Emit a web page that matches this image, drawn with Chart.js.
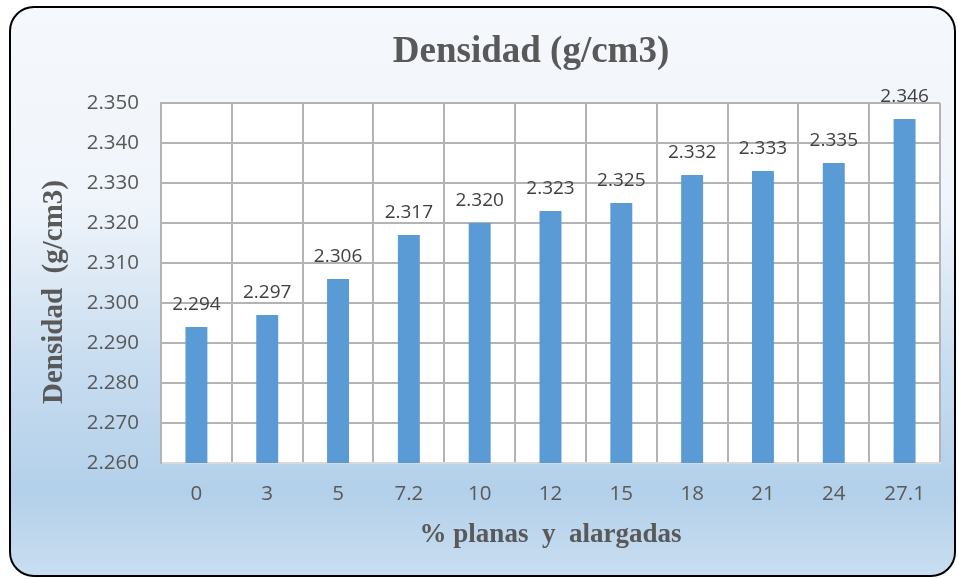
<!DOCTYPE html>
<html>
<head>
<meta charset="utf-8">
<script src="https://cdn.jsdelivr.net/npm/chart.js@4.4.1/dist/chart.umd.min.js"></script>
<style>
  html, body { margin: 0; padding: 0; background: #ffffff; }
  #wrap { width: 958px; height: 578px; position: relative; }
</style>
</head>
<body>
<div id="wrap"><canvas id="chart" width="958" height="578"></canvas></div>
<script>
// Percentage of flat and elongated particles vs. density
const categories = ['0', '3', '5', '7.2', '10', '12', '15', '18', '21', '24', '27.1'];
const densidad = [2.294, 2.297, 2.306, 2.317, 2.320, 2.323, 2.325, 2.332, 2.333, 2.335, 2.346];
const yMin = 2.26;
const yMax = 2.35;
const yStep = 0.01;

const chartTitle = 'Densidad (g/cm3)';
const yTitle = 'Densidad  (g/cm3)';
const xTitle = '% planas  y  alargadas';

const textGray = '#595959';
const gridGray = '#b3b3b3';

// Rounded frame with a soft blue gradient, and a white plot area
const framePlugin = {
  id: 'frame',
  beforeDraw(chart) {
    const ctx = chart.ctx;
    const x = 10, y = 7, w = 945, h = 569, r = 24;
    ctx.save();
    const g = ctx.createLinearGradient(0, y, 0, y + h);
    g.addColorStop(0, '#f5f8fc');
    g.addColorStop(0.34, '#f0f5fb');
    g.addColorStop(0.62, '#c9ddf0');
    g.addColorStop(0.85, '#b3d0ea');
    g.addColorStop(1, '#c9def1');
    ctx.beginPath();
    ctx.roundRect(x, y, w, h, r);
    ctx.fillStyle = g;
    ctx.fill();
    ctx.lineWidth = 2;
    ctx.strokeStyle = '#000000';
    ctx.stroke();
    const a = chart.chartArea;
    ctx.fillStyle = '#ffffff';
    ctx.fillRect(a.left, a.top, a.right - a.left, a.bottom - a.top);
    ctx.restore();
  }
};

// Chart title and vertical axis title, placed over the frame
const titles = {
  id: 'titles',
  afterDraw(chart) {
    const ctx = chart.ctx;
    ctx.save();
    ctx.fillStyle = textGray;
    ctx.textAlign = 'center';
    ctx.textBaseline = 'middle';
    ctx.font = 'bold 37px "Liberation Serif"';
    ctx.fillText(chartTitle, 531, 52);
    ctx.translate(55, 292);
    ctx.rotate(-Math.PI / 2);
    ctx.font = 'bold 29px "Liberation Serif"';
    ctx.fillText(yTitle, 0, 0);
    ctx.restore();
  }
};

// Value labels above each bar
const valueLabels = {
  id: 'valueLabels',
  afterDatasetsDraw(chart) {
    const ctx = chart.ctx;
    const meta = chart.getDatasetMeta(0);
    ctx.save();
    ctx.font = '19px "Open Sans"';
    ctx.fillStyle = '#404040';
    ctx.textAlign = 'center';
    ctx.textBaseline = 'middle';
    meta.data.forEach((bar, i) => {
      ctx.fillText(densidad[i].toFixed(3), bar.x, bar.y - 22);
    });
    ctx.restore();
  }
};

new Chart(document.getElementById('chart'), {
  type: 'bar',
  data: {
    labels: categories,
    datasets: [{
      label: chartTitle,
      data: densidad,
      backgroundColor: '#5b9bd5',
      borderWidth: 0,
      barPercentage: 0.31,
      categoryPercentage: 1.0
    }]
  },
  options: {
    responsive: false,
    animation: false,
    layout: { padding: { left: 32, right: 18, top: 103, bottom: 10 } },
    plugins: {
      legend: { display: false },
      tooltip: { enabled: false },
      title: { display: false }
    },
    scales: {
      x: {
        afterFit(scale) { scale.height = 105; },
        grid: { color: gridGray, lineWidth: 2, drawTicks: false, offset: true },
        border: { color: '#d9d9d9', width: 2 },
        ticks: {
          color: textGray,
          font: { family: '"Open Sans"', size: 20.5 },
          padding: 19,
          maxRotation: 0,
          autoSkip: false
        },
        title: {
          display: true,
          text: xTitle,
          color: textGray,
          font: { family: '"Liberation Serif"', size: 27, weight: 'bold' },
          padding: { top: 0, bottom: 17 }
        }
      },
      y: {
        min: yMin,
        max: yMax,
        afterFit(scale) { scale.width = 129; },
        grid: { color: gridGray, lineWidth: 2, drawTicks: false },
        border: { color: gridGray, width: 2 },
        ticks: {
          stepSize: yStep,
          color: textGray,
          font: { family: '"Open Sans"', size: 20.5 },
          padding: 22,
          callback: v => Number(v).toFixed(3)
        }
      }
    }
  },
  plugins: [framePlugin, valueLabels, titles]
});
</script>
</body>
</html>
